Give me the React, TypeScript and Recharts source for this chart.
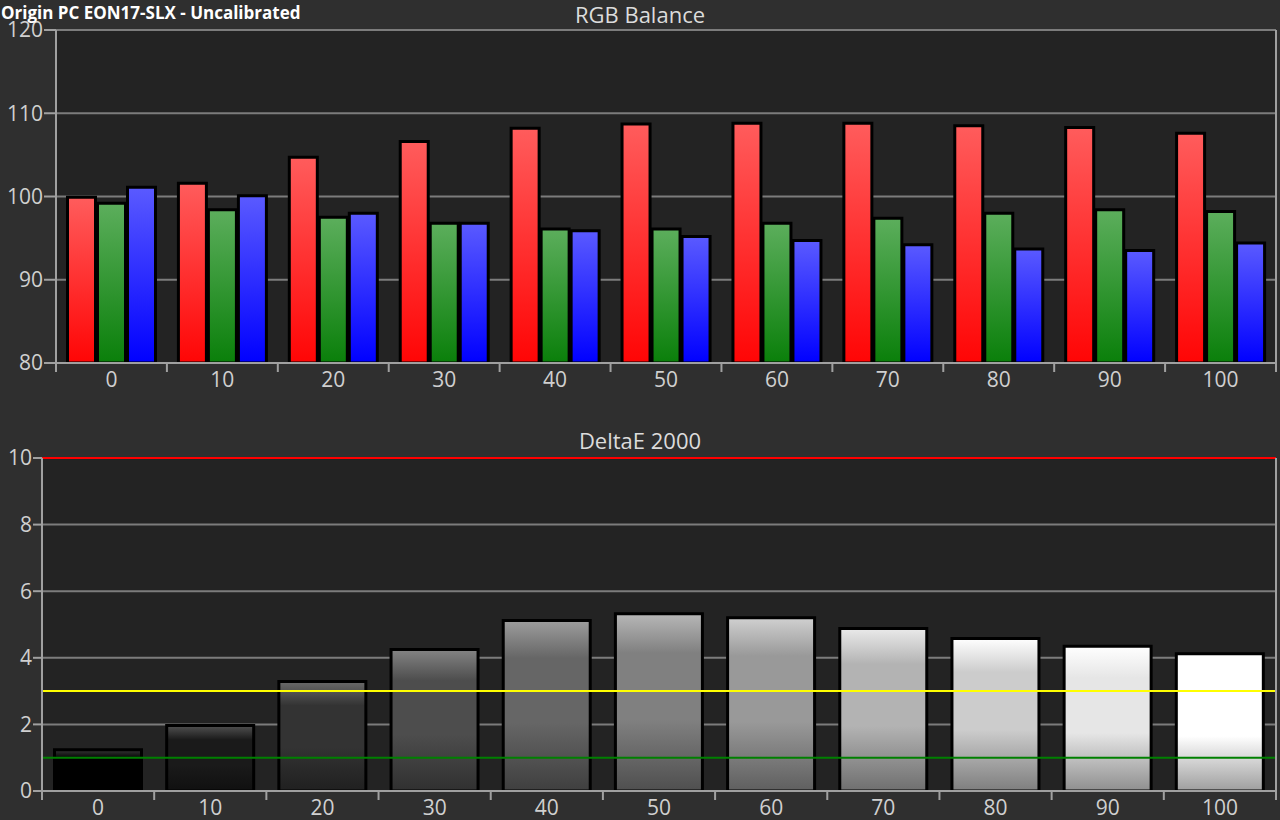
import React from 'react';
import { BarChart, Bar, XAxis, YAxis, CartesianGrid, ReferenceLine, Cell } from 'recharts';

const levels = ['0', '10', '20', '30', '40', '50', '60', '70', '80', '90', '100'];
const redBalance = [99.9, 101.6, 104.7, 106.6, 108.2, 108.7, 108.8, 108.8, 108.5, 108.3, 107.6];
const greenBalance = [99.2, 98.4, 97.5, 96.8, 96.1, 96.1, 96.8, 97.4, 98.0, 98.4, 98.2];
const blueBalance = [101.1, 100.1, 98.0, 96.8, 95.9, 95.2, 94.7, 94.2, 93.7, 93.5, 94.4];
const deltaE = [1.24, 1.97, 3.29, 4.25, 5.12, 5.32, 5.2, 4.88, 4.58, 4.35, 4.12];

const rgbTicks = [80, 90, 100, 110, 120];
const deltaTicks = [0, 2, 4, 6, 8, 10];

const rgbData = levels.map((level, i) => ({
  level,
  r: redBalance[i],
  g: greenBalance[i],
  b: blueBalance[i],
}));
const deltaData = levels.map((level, i) => ({ level, de: deltaE[i] }));

// grey shade of each bar in the DeltaE chart
const grayLevels = [0, 26, 51, 77, 102, 128, 153, 179, 204, 230, 255];

const W = 1280;
const H = 400;
const pageBg = '#2f2f2f';
const plotBg = '#232323';
const gridGray = '#7c7c7c';
const axisGray = '#a0a0a0';
const labelGray = '#d0d0d0';
const font = '"Open Sans", "Noto Sans", sans-serif';

const gray = (v: number) => {
  const c = Math.max(0, Math.min(255, Math.round(v)));
  return `rgb(${c},${c},${c})`;
};

const BandTick = (props: any) => {
  const { x, y, payload, index, band, dy } = props;
  const half = band / 2;
  const last = index === levels.length - 1;
  return (
    <g>
      <line x1={x - half} x2={x - half} y1={y} y2={y + 9} stroke={axisGray} strokeWidth={2} />
      {last && <line x1={x + half} x2={x + half} y1={y} y2={y + 9} stroke={axisGray} strokeWidth={2} />}
      <text x={x} y={y + dy} textAnchor="middle" dominantBaseline="central" fill={labelGray} fontSize={21} fontFamily={font}>
        {payload.value}
      </text>
    </g>
  );
};

const RgbChart = () => {
  const left = 56;
  const band = (W - left - 4) / levels.length;
  return (
    <BarChart width={W} height={H} data={rgbData} margin={{ top: 30, right: 0, left: 0, bottom: 0 }} barCategoryGap={11.5} barGap={2}>
      <defs>
        <linearGradient id="gR" x1="0" y1="0" x2="0" y2="1">
          <stop offset="0%" stopColor="#ff5c5c" />
          <stop offset="100%" stopColor="#ff0505" />
        </linearGradient>
        <linearGradient id="gG" x1="0" y1="0" x2="0" y2="1">
          <stop offset="0%" stopColor="#5cae5c" />
          <stop offset="100%" stopColor="#0a7f0a" />
        </linearGradient>
        <linearGradient id="gB" x1="0" y1="0" x2="0" y2="1">
          <stop offset="0%" stopColor="#5a5aff" />
          <stop offset="100%" stopColor="#0000ff" />
        </linearGradient>
      </defs>
      <CartesianGrid vertical={false} fill={plotBg} stroke={gridGray} strokeWidth={2} />
      <XAxis
        dataKey="level"
        height={37}
        tickSize={0}
        tickMargin={0}
        tickLine={false}
        axisLine={{ stroke: axisGray, strokeWidth: 2 }}
        interval={0}
        tick={<BandTick band={band} dy={16} />}
      />
      <YAxis
        width={left}
        domain={[80, 120]}
        ticks={rgbTicks}
        allowDataOverflow
        tickSize={12}
        tickMargin={1}
        tickLine={{ stroke: axisGray, strokeWidth: 2 }}
        axisLine={{ stroke: axisGray, strokeWidth: 2 }}
        tick={{ fill: labelGray, fontSize: 21, fontFamily: font }}
      />
      <YAxis yAxisId="edge" orientation="right" width={4} tick={false} tickLine={false} axisLine={{ stroke: axisGray, strokeWidth: 2 }} />
      <Bar dataKey="r" fill="url(#gR)" stroke="#000" strokeWidth={3} isAnimationActive={false} />
      <Bar dataKey="g" fill="url(#gG)" stroke="#000" strokeWidth={3} isAnimationActive={false} />
      <Bar dataKey="b" fill="url(#gB)" stroke="#000" strokeWidth={3} isAnimationActive={false} />
    </BarChart>
  );
};

const DeltaChart = () => {
  const left = 42;
  const band = (W - left - 4) / levels.length;
  return (
    <BarChart width={W} height={H} data={deltaData} margin={{ top: 38, right: 0, left: 0, bottom: 0 }} barCategoryGap={12.5}>
      <defs>
        {grayLevels.map((v, i) => (
          <linearGradient key={i} id={`gd${i}`} x1="0" y1="0" x2="0" y2="1">
            <stop offset="0%" stopColor={gray(v + 55)} />
            <stop offset="22%" stopColor={gray(v)} />
            <stop offset="60%" stopColor={gray(v)} />
            <stop offset="100%" stopColor={gray(v * 0.62)} />
          </linearGradient>
        ))}
      </defs>
      <CartesianGrid vertical={false} fill={plotBg} stroke={gridGray} strokeWidth={2} />
      <XAxis
        dataKey="level"
        height={29}
        tickSize={0}
        tickMargin={0}
        tickLine={false}
        axisLine={{ stroke: axisGray, strokeWidth: 2 }}
        interval={0}
        tick={<BandTick band={band} dy={16} />}
      />
      <YAxis
        width={left}
        domain={[0, 10]}
        ticks={deltaTicks}
        allowDataOverflow
        tickSize={9}
        tickMargin={1}
        tickLine={{ stroke: axisGray, strokeWidth: 2 }}
        axisLine={{ stroke: axisGray, strokeWidth: 2 }}
        tick={{ fill: labelGray, fontSize: 21, fontFamily: font }}
      />
      <YAxis yAxisId="edge" orientation="right" width={4} tick={false} tickLine={false} axisLine={{ stroke: axisGray, strokeWidth: 2 }} />
      <Bar dataKey="de" stroke="#000" strokeWidth={3} isAnimationActive={false}>
        {deltaData.map((d, i) => (
          <Cell key={d.level} fill={`url(#gd${i})`} />
        ))}
      </Bar>
      <ReferenceLine y={10} stroke="#ff0000" strokeWidth={2} />
      <ReferenceLine y={3} stroke="#ffff00" strokeWidth={2} />
      <ReferenceLine y={1} stroke="#008000" strokeWidth={2} />
    </BarChart>
  );
};

export default function App() {
  return (
    <div style={{ position: 'absolute', left: 0, top: 0, width: W, height: 820, background: pageBg, overflow: 'hidden', fontFamily: font }}>
      <div style={{ position: 'absolute', left: 0, top: 0 }}>
        <RgbChart />
      </div>
      <div style={{ position: 'absolute', left: 0, top: 420 }}>
        <DeltaChart />
      </div>
      <div style={{ position: 'absolute', left: 1, top: 3, color: '#fff', fontWeight: 700, fontSize: 17, lineHeight: '20px', whiteSpace: 'nowrap' }}>
        Origin PC EON17-SLX - Uncalibrated
      </div>
      <div style={{ position: 'absolute', left: 0, width: W, top: 1, textAlign: 'center', color: '#dcdcdc', fontSize: 22, lineHeight: '26px' }}>
        RGB Balance
      </div>
      <div style={{ position: 'absolute', left: 0, width: W, top: 427, textAlign: 'center', color: '#dcdcdc', fontSize: 22, lineHeight: '26px' }}>
        DeltaE 2000
      </div>
    </div>
  );
}
